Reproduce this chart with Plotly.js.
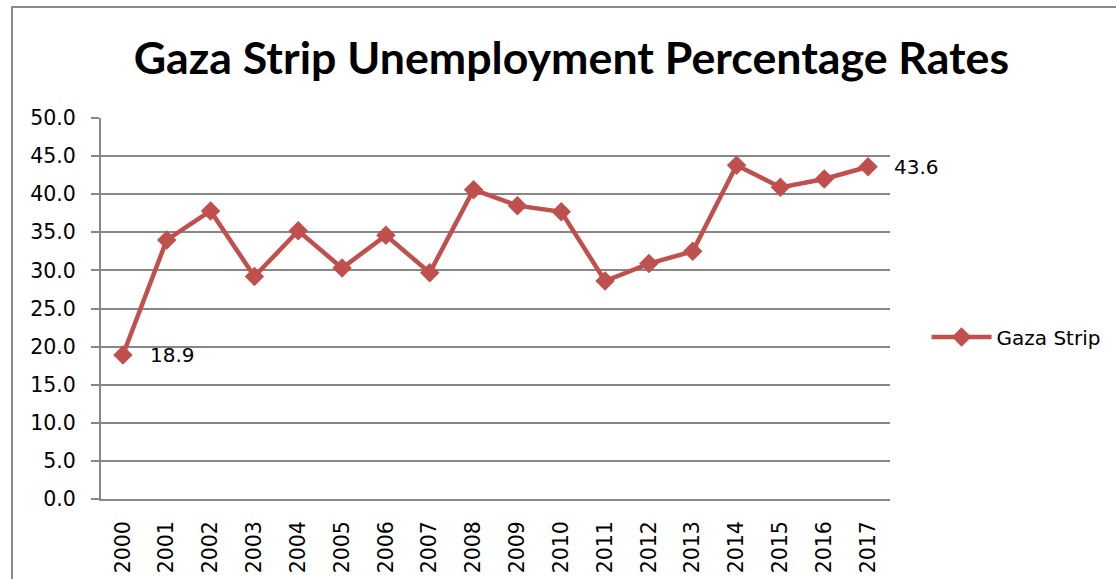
<!DOCTYPE html>
<html>
<head>
<meta charset="utf-8">
<script src="https://cdn.plot.ly/plotly-3.0.1.min.js"></script>
<style>
html,body{margin:0;padding:0;background:#fff;}
#wrap{position:relative;width:1116px;height:579px;overflow:hidden;}
#chart{width:1116px;height:579px;}
#frame{position:absolute;left:11px;top:6px;width:1200px;height:700px;border:2px solid #8a8a8a;box-sizing:border-box;pointer-events:none;}
</style>
</head>
<body>
<div id="wrap"><div id="chart"></div><div id="frame"></div></div>
<script>
const years = ['2000','2001','2002','2003','2004','2005','2006','2007','2008','2009','2010','2011','2012','2013','2014','2015','2016','2017'];
const gazaRates = [18.9,34.0,37.8,29.2,35.2,30.3,34.6,29.7,40.6,38.5,37.7,28.6,30.9,32.5,43.8,40.9,42.0,43.6];
const seriesName = 'Gaza Strip';
const chartTitle = 'Gaza Strip Unemployment Percentage Rates';

const red = '#C0504D';
const grid = '#878787';
const font = 'DejaVu Sans, sans-serif';
const last = gazaRates.length - 1;

const trace = {
  x: years, y: gazaRates, type: 'scatter', mode: 'lines+markers', name: seriesName,
  line: {color: red, width: 4.5},
  marker: {symbol: 'diamond', size: 15, color: red}
};

const layout = {
  width: 1116, height: 579,
  margin: {l: 101, r: 225, t: 118, b: 80},
  paper_bgcolor: '#fff', plot_bgcolor: '#fff',
  font: {family: font, size: 20, color: '#000'},
  title: {text: '<b>' + chartTitle + '</b>', font: {family: 'Lato, sans-serif', size: 44.7, color: '#000'}, x: 0.512, xanchor: 'center', y: 0.9, yanchor: 'middle'},
  xaxis: {type: 'category', categoryorder: 'array', categoryarray: years, range: [-0.5, last + 0.5],
          tickangle: -90, showgrid: false, showline: true, linecolor: grid, linewidth: 2,
          ticks: '', ticklabelstandoff: 12, tickfont: {family: font, size: 20.5}, fixedrange: true},
  yaxis: {range: [0, 50], dtick: 5, tick0: 0, tickformat: '.1f', showgrid: true, gridcolor: grid, gridwidth: 2,
          showline: true, linecolor: grid, linewidth: 2, ticks: 'outside', ticklen: 8, tickcolor: grid, tickwidth: 2,
          ticklabelstandoff: 11, zeroline: false, tickfont: {family: font, size: 20.5}, fixedrange: true},
  showlegend: true,
  legend: {x: 1.045, xanchor: 'left', y: 0.425, yanchor: 'middle', font: {family: font, size: 20}, itemwidth: 60, bgcolor: 'rgba(0,0,0,0)'},
  annotations: [
    {x: 0, y: gazaRates[0], xref: 'x', yref: 'y', text: gazaRates[0].toFixed(1), showarrow: false, xanchor: 'left', yanchor: 'middle', xshift: 25, font: {family: font, size: 20}},
    {x: last, y: gazaRates[last], xref: 'x', yref: 'y', text: gazaRates[last].toFixed(1), showarrow: false, xanchor: 'left', yanchor: 'middle', xshift: 24, font: {family: font, size: 20}}
  ]
};

Plotly.newPlot('chart', [trace], layout, {staticPlot: true, displayModeBar: false});
</script>
</body>
</html>
